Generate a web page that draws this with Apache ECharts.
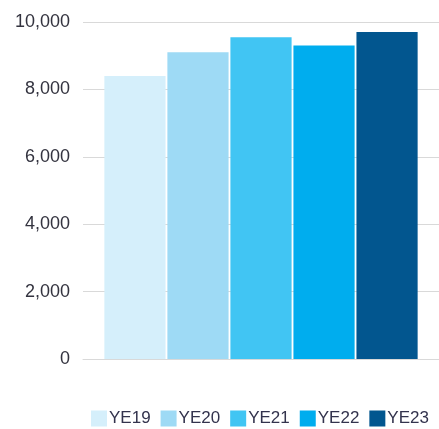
<!DOCTYPE html>
<html>
<head>
<meta charset="utf-8">
<script src="https://cdn.jsdelivr.net/npm/echarts@6/dist/echarts.min.js"></script>
<style>html,body{margin:0;padding:0;background:#fff;}#c{width:439px;height:429px;}</style>
</head>
<body>
<div id="c"></div>
<script>
const seriesNames = ['YE19', 'YE20', 'YE21', 'YE22', 'YE23'];
const seriesValues = [8400, 9100, 9550, 9300, 9700];
const seriesColors = ['#d5effb', '#9edaf5', '#41c5f3', '#00adee', '#02568f'];
const yTicks = [0, 2000, 4000, 6000, 8000, 10000];

const chart = echarts.init(document.getElementById('c'));
chart.setOption({
  animation: false,
  grid: { left: 83, right: 0, top: 22, bottom: 70 },
  legend: {
    data: seriesNames,
    left: 86, bottom: -3,
    itemWidth: 16, itemHeight: 16, itemGap: 10,
    icon: 'rect',
    textStyle: { fontFamily: 'Liberation Sans, Arial', fontSize: 17, color: '#33334d', padding: [0,0,0,-3] }
  },
  xAxis: {
    type: 'category', data: [''],
    axisLine: { lineStyle: { color: '#d9d9d9', width: 1 } },
    axisTick: { show: false }, axisLabel: { show: false }
  },
  yAxis: {
    type: 'value', min: yTicks[0], max: yTicks[yTicks.length-1], interval: 2000,
    axisLine: { show: false }, axisTick: { show: false },
    splitLine: { lineStyle: { color: '#d9d9d9', width: 1 } },
    axisLabel: {
      margin: 13, fontFamily: 'Liberation Sans, Arial', fontSize: 18, color: '#33333f',
      formatter: v => v.toLocaleString('en-US')
    }
  },
  series: seriesNames.map((n, i) => ({
    name: n, type: 'bar', data: [seriesValues[i]],
    barGap: '3%', barCategoryGap: '12%',
    itemStyle: { color: seriesColors[i] }
  }))
});
</script>
</body>
</html>
